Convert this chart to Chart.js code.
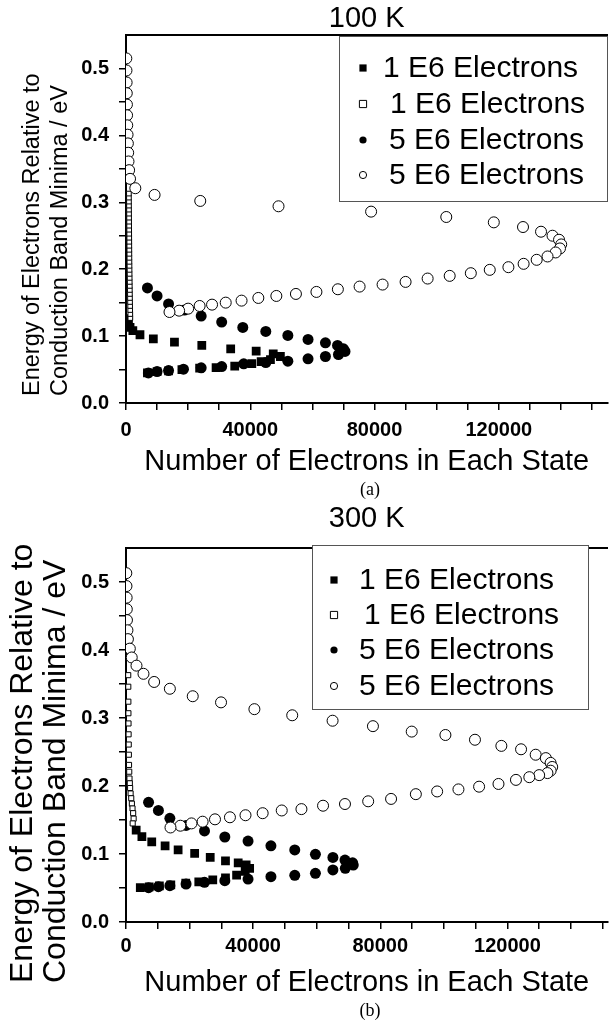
<!DOCTYPE html>
<html>
<head>
<meta charset="utf-8">
<script src="https://cdn.jsdelivr.net/npm/chart.js@4.4.1/dist/chart.umd.min.js"></script>
<style>
html,body{margin:0;padding:0;background:#fff;width:614px;height:1024px;overflow:hidden;position:relative}
canvas{position:absolute;left:0}
#ca{top:0}
#cb{top:500px}
.cap{position:absolute;left:126px;width:488px;text-align:center;font-family:"Liberation Serif","Times New Roman",serif;font-size:18px;line-height:18px;color:#000;z-index:2}
.ytitle{position:absolute;transform:rotate(-90deg);transform-origin:left top;white-space:nowrap;text-align:left;font-family:"Liberation Sans",Arial,sans-serif;color:#000;z-index:2}
</style>
</head>
<body>
<canvas id="ca" width="614" height="480"></canvas>
<canvas id="cb" width="614" height="524"></canvas>
<div class="ytitle" style="left:17px;top:396px;font-size:23.5px;line-height:28px">Energy of Electrons Relative to<br>Conduction Band Minima / eV</div>
<div class="ytitle" style="left:5px;top:983px;font-size:32px;line-height:33px">Energy of Electrons Relative to<br>Conduction Band Minima / eV</div>
<div class="cap" style="top:480px">(a)</div>
<div class="cap" style="top:1001px">(b)</div>
<script>
// ---------- ticks ----------
const xTickValues = [0, 10000, 20000, 30000, 40000, 50000, 60000, 70000, 80000, 90000, 100000, 110000, 120000, 130000, 140000, 150000];
const xTickLabels = [0, 40000, 80000, 120000];
const yTickValues = [0, 0.05, 0.1, 0.15, 0.2, 0.25, 0.3, 0.35, 0.4, 0.45, 0.5];
const yTickLabels = ['0.0', '0.1', '0.2', '0.3', '0.4', '0.5'];
const seriesLabels = ['1 E6 Electrons', '1 E6 Electrons', '5 E6 Electrons', '5 E6 Electrons'];
const panelTitles = ['100 K', '300 K'];

// ---------- panel (a) 100 K ----------
const a_sqFilled_x = [400, 800, 1300, 2200, 4500, 8800, 15600, 24400, 33700, 41900, 47400, 49700, 46500, 43500, 40500, 35000, 29000, 23700, 18000, 13700, 10000, 6900];
const a_sqFilled_y = [0.126, 0.120, 0.113, 0.108, 0.102, 0.096, 0.091, 0.086, 0.081, 0.0775, 0.0735, 0.0695, 0.065, 0.062, 0.059, 0.055, 0.053, 0.052, 0.050, 0.048, 0.047, 0.045];

const a_sqOpen_x = [1400, 1380, 1350, 1330, 1300, 1280, 1260, 1240, 1220, 1200, 1180, 1160, 1140, 1120, 1100, 1090, 1080, 1070, 1060, 1050, 1040, 1030, 1020, 1010, 1000, 990, 980, 970, 960, 950, 940, 930];
const a_sqOpen_y = [0.127, 0.133, 0.139, 0.145, 0.151, 0.157, 0.163, 0.169, 0.175, 0.181, 0.187, 0.193, 0.199, 0.205, 0.211, 0.217, 0.223, 0.229, 0.235, 0.241, 0.247, 0.253, 0.259, 0.265, 0.271, 0.277, 0.283, 0.289, 0.295, 0.301, 0.307, 0.313];

const a_ciFilled_x = [6900, 10000, 13700, 18800, 24200, 30800, 37600, 45000, 52100, 58600, 64200, 68100, 70000, 70500, 68400, 64200, 58600, 52100, 45000, 37900, 30800, 24200, 18500, 13700, 10000, 7200];
const a_ciFilled_y = [0.172, 0.160, 0.148, 0.139, 0.130, 0.121, 0.113, 0.107, 0.101, 0.095, 0.090, 0.086, 0.081, 0.077, 0.0725, 0.0695, 0.066, 0.0625, 0.0605, 0.0585, 0.0545, 0.0525, 0.0505, 0.0485, 0.047, 0.045];

const a_ciOpen_x = [100, 150, 200, 250, 300, 350, 400, 500, 600, 700, 800, 1000, 1300, 3000, 9200, 23900, 49100, 78900, 103100, 118400, 127800, 133600, 137300, 139400, 140100, 139700, 138300, 135700, 132200, 128000, 123100, 117100, 111000, 104200, 97100, 90000, 82600, 75200, 68200, 61300, 54700, 48400, 42600, 37200, 32100, 27700, 23700, 20000, 17100, 14000];
const a_ciOpen_y = [0.515, 0.497, 0.479, 0.463, 0.446, 0.430, 0.415, 0.401, 0.388, 0.374, 0.361, 0.348, 0.335, 0.321, 0.311, 0.302, 0.294, 0.286, 0.278, 0.270, 0.263, 0.256, 0.250, 0.244, 0.237, 0.231, 0.225, 0.219, 0.214, 0.208, 0.203, 0.199, 0.194, 0.190, 0.186, 0.181, 0.177, 0.174, 0.170, 0.166, 0.163, 0.160, 0.157, 0.153, 0.150, 0.147, 0.145, 0.141, 0.138, 0.136];

// ---------- panel (b) 300 K ----------
const b_sqFilled_x = [3200, 5000, 8100, 12300, 16400, 21600, 26500, 31300, 35300, 37800, 38900, 37500, 34800, 31300, 27300, 22900, 18800, 14100, 10500, 7300, 4500];
const b_sqFilled_y = [0.135, 0.1255, 0.118, 0.112, 0.106, 0.101, 0.095, 0.090, 0.087, 0.084, 0.079, 0.0745, 0.069, 0.065, 0.062, 0.059, 0.057, 0.0545, 0.053, 0.0515, 0.0505];

const b_sqOpen_x = [700, 720, 740, 760, 790, 820, 860, 900, 950, 1020, 1100, 1200, 1300, 1450, 1650, 1850, 2050, 2250, 2400, 2100];
const b_sqOpen_y = [0.363, 0.346, 0.324, 0.307, 0.292, 0.276, 0.261, 0.246, 0.231, 0.221, 0.211, 0.204, 0.197, 0.189, 0.182, 0.174, 0.167, 0.160, 0.152, 0.145];

const b_ciFilled_x = [7100, 10200, 13800, 18900, 24700, 31100, 38400, 45600, 53100, 59600, 65100, 68900, 71300, 71500, 69000, 65100, 59600, 53100, 45600, 38400, 31100, 24700, 18900, 13800, 10200, 7100];
const b_ciFilled_y = [0.176, 0.164, 0.1525, 0.142, 0.134, 0.125, 0.119, 0.112, 0.106, 0.0995, 0.095, 0.091, 0.087, 0.0838, 0.079, 0.0765, 0.0716, 0.0686, 0.0667, 0.0632, 0.0608, 0.0583, 0.0559, 0.0534, 0.052, 0.0505];

const b_ciOpen_x = [100, 150, 200, 250, 300, 450, 600, 1200, 1800, 3300, 5500, 8850, 13800, 21000, 29900, 40400, 52300, 65000, 77700, 89900, 100500, 109800, 118100, 124300, 128900, 132100, 133600, 134100, 133600, 132600, 130000, 126900, 122700, 117200, 111100, 104600, 97900, 91200, 83400, 76200, 68900, 62000, 55200, 49000, 43000, 37600, 32700, 28000, 24100, 20600, 17100, 14000];
const b_ciOpen_y = [0.513, 0.494, 0.477, 0.460, 0.444, 0.429, 0.416, 0.402, 0.389, 0.377, 0.365, 0.353, 0.343, 0.332, 0.323, 0.313, 0.304, 0.296, 0.288, 0.280, 0.275, 0.268, 0.259, 0.254, 0.246, 0.241, 0.234, 0.228, 0.2225, 0.219, 0.216, 0.213, 0.209, 0.203, 0.199, 0.195, 0.192, 0.188, 0.181, 0.1775, 0.1735, 0.171, 0.166, 0.164, 0.160, 0.157, 0.154, 0.151, 0.1475, 0.145, 0.1416, 0.139];

// ---------- helpers ----------
const FONT = "'Liberation Sans', Arial, Helvetica, sans-serif";
const pts = (xs, ys) => xs.map((x, i) => ({x: x, y: ys[i]}));

const boxLegend = {
  id: 'boxLegend',
  afterDraw(chart, args, o) {
    const ctx = chart.ctx;
    ctx.save();
    ctx.fillStyle = '#fff';
    ctx.fillRect(o.x, o.y, o.w, o.h);
    ctx.strokeStyle = '#555';
    ctx.lineWidth = 1;
    ctx.strokeRect(o.x + 0.5, o.y + 0.5, o.w, o.h);
    ctx.font = o.fontSize + 'px ' + FONT;
    ctx.textBaseline = 'middle';
    ctx.textAlign = 'left';
    chart.data.datasets.forEach((ds, i) => {
      const y = o.rows[i];
      const mx = o.markerX;
      const s = 3.6;
      ctx.beginPath();
      if (ds.pointStyle === 'rect') {
        ctx.rect(mx - s, y - s, 2 * s, 2 * s);
      } else {
        ctx.arc(mx, y, s, 0, Math.PI * 2);
      }
      ctx.fillStyle = ds.backgroundColor;
      ctx.fill();
      if (ds.borderWidth) {
        ctx.lineWidth = 1;
        ctx.strokeStyle = '#000';
        ctx.stroke();
      }
      ctx.fillStyle = '#000';
      ctx.fillText(ds.label, o.textX[i], y + 1);
    });
    ctx.restore();
  }
};

function makePanel(id, P) {
  const tickFont = {family: FONT, size: 20, weight: 'bold'};
  const datasets = [
    {label: seriesLabels[0], data: pts(P.d[0][0], P.d[0][1]), pointStyle: 'rect', pointRadius: 6.2, backgroundColor: '#000', borderColor: '#000', borderWidth: 0, order: 4, clip: 0},
    {label: seriesLabels[1], data: pts(P.d[1][0], P.d[1][1]), pointStyle: 'rect', pointRadius: P.openSq, backgroundColor: '#fff', borderColor: '#000', borderWidth: 1, order: 3, clip: 0},
    {label: seriesLabels[2], data: pts(P.d[2][0], P.d[2][1]), pointStyle: 'circle', pointRadius: 5.5, backgroundColor: '#000', borderColor: '#000', borderWidth: 0, order: 2, clip: 0},
    {label: seriesLabels[3], data: pts(P.d[3][0], P.d[3][1]), pointStyle: 'circle', pointRadius: 5.5, backgroundColor: '#fff', borderColor: '#000', borderWidth: 1, order: 1, clip: 0}
  ];
  const H = P.height;
  return new Chart(document.getElementById(id), {
    type: 'scatter',
    data: {datasets: datasets},
    plugins: [boxLegend],
    options: {
      responsive: false,
      animation: false,
      devicePixelRatio: 1,
      events: [],
      layout: {padding: 0},
      plugins: {
        legend: {display: false},
        tooltip: {enabled: false},
        boxLegend: P.legend
      },
      scales: {
        x: {
          type: 'linear', position: 'bottom', min: 0, max: P.xMax,
          afterBuildTicks: s => { s.ticks = xTickValues.map(v => ({value: v})); },
          afterFit: s => { s.height = H - P.bottom; },
          ticks: {autoSkip: false, maxRotation: 0, minRotation: 0, padding: P.xTickPad, color: '#000', font: tickFont,
                  callback: v => (xTickLabels.includes(v) ? String(v) : '')},
          grid: {display: true, drawOnChartArea: false, drawTicks: true, tickLength: 7, color: '#000', lineWidth: 1.5},
          border: {display: true, color: '#000', width: 2},
          title: {display: true, text: 'Number of Electrons in Each State', color: '#000',
                  font: {family: FONT, size: 29, lineHeight: 1.2}, padding: {top: 0, bottom: P.xTitlePad}}
        },
        x2: {
          type: 'linear', position: 'top', min: 0, max: P.xMax,
          afterFit: s => { s.height = P.top; },
          ticks: {display: false},
          grid: {display: false, drawTicks: false},
          border: {display: true, color: '#000', width: 2},
          title: {display: true, text: P.title, color: '#000',
                  font: {family: FONT, size: 29, lineHeight: 1.2}, padding: {top: P.titlePad, bottom: 0}}
        },
        y: {
          type: 'linear', position: 'left', min: 0, max: 0.55,
          afterBuildTicks: s => { s.ticks = yTickValues.map(v => ({value: v})); },
          afterFit: s => { s.width = 126; },
          ticks: {autoSkip: false, padding: 10, color: '#000', font: tickFont,
                  callback: v => { const r = Math.round(v * 10); return Math.abs(v * 10 - r) < 1e-6 ? yTickLabels[r] : ''; }},
          grid: {display: true, drawOnChartArea: false, drawTicks: true, tickLength: 7, color: '#000', lineWidth: 1.5},
          border: {display: true, color: '#000', width: 2}
        }
      }
    }
  });
}

makePanel('ca', {
  height: 480, top: 35, bottom: 403, xMax: 155000, title: panelTitles[0], titlePad: 2,
  xTickPad: 8, xTitlePad: 1, openSq: 3.3,
  d: [[a_sqFilled_x, a_sqFilled_y], [a_sqOpen_x, a_sqOpen_y], [a_ciFilled_x, a_ciFilled_y], [a_ciOpen_x, a_ciOpen_y]],
  legend: {x: 339, y: 36, w: 268, h: 165, rows: [68, 104, 140, 175], markerX: 363, textX: [383, 390, 389, 389], fontSize: 30}
});

makePanel('cb', {
  height: 524, top: 48, bottom: 422, xMax: 151500, title: panelTitles[1], titlePad: 2,
  xTickPad: 5, xTitlePad: 24, openSq: 3.6,
  d: [[b_sqFilled_x, b_sqFilled_y], [b_sqOpen_x, b_sqOpen_y], [b_ciFilled_x, b_ciFilled_y], [b_ciOpen_x, b_ciOpen_y]],
  legend: {x: 312, y: 45, w: 276, h: 164, rows: [80, 115, 150, 186], markerX: 334, textX: [359, 364, 359, 359], fontSize: 30}
});
</script>
</body>
</html>
